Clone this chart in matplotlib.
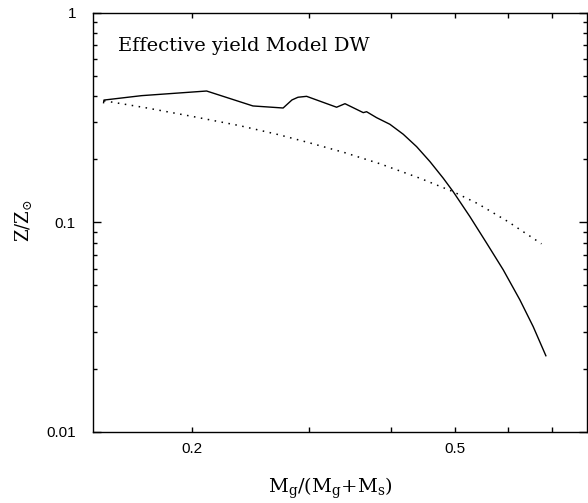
import matplotlib
matplotlib.use('Agg')
import matplotlib.pyplot as plt
from matplotlib.ticker import FixedLocator, NullFormatter, LogLocator, FixedFormatter

plt.rcParams['mathtext.fontset'] = 'dejavuserif'

# gas fraction vs. effective yield, model DW (solid)
mu_model = [0.1468, 0.147, 0.1676, 0.2102, 0.247, 0.2744, 0.283, 0.289, 0.2978,
            0.3306, 0.3404, 0.3628, 0.367, 0.380, 0.398, 0.417, 0.4369,
            0.4577, 0.4794, 0.4962, 0.526, 0.5577, 0.5907, 0.626, 0.6558,
            0.6854]
z_model = [0.372, 0.383, 0.402, 0.423, 0.359, 0.351, 0.3835, 0.395, 0.399,
           0.354, 0.368, 0.3336, 0.337, 0.3157, 0.2936, 0.2631, 0.2296,
           0.1948, 0.1623, 0.1401, 0.1065, 0.0795, 0.0594, 0.0427, 0.0318,
           0.0231]

# closed-box reference (dotted)
mu_box = [0.147, 0.17, 0.20, 0.236, 0.27, 0.30, 0.34, 0.385, 0.442, 0.496,
          0.54, 0.60, 0.675]
z_box = [0.380, 0.352, 0.320, 0.289, 0.262, 0.240, 0.215, 0.190, 0.1623,
         0.1401, 0.123, 0.101, 0.079]

x_major = [0.2, 0.5]
x_major_labels = ['0.2', '0.5']
x_minor = [0.3, 0.4, 0.6, 0.7]
y_major = [0.01, 0.1, 1]
y_major_labels = ['0.01', '0.1', '1']

fig = plt.figure(figsize=(5.88, 5.03), dpi=100)
ax = fig.add_axes([0.1575, 0.1412, 0.8408, 0.8336])

ax.plot(mu_model, z_model, color='black', lw=1.0)
ax.plot(mu_box, z_box, color='black', lw=1.1, linestyle=(0, (1, 3.6)))

ax.set_xscale('log')
ax.set_yscale('log')
ax.set_xlim(0.1413, 0.791)
ax.set_ylim(0.01, 1)

ax.xaxis.set_major_locator(FixedLocator(x_major))
ax.xaxis.set_major_formatter(FixedFormatter(x_major_labels))
ax.xaxis.set_minor_locator(FixedLocator(x_minor))
ax.xaxis.set_minor_formatter(NullFormatter())
ax.yaxis.set_major_locator(FixedLocator(y_major))
ax.yaxis.set_major_formatter(FixedFormatter(y_major_labels))
ax.yaxis.set_minor_locator(LogLocator(base=10, subs=range(2, 10)))
ax.yaxis.set_minor_formatter(NullFormatter())

for side in ax.spines.values():
    side.set_linewidth(1.0)

ax.tick_params(which='both', direction='in', top=True, right=True, width=1.0,
               labelfontfamily='Liberation Sans', labelsize=11)
ax.tick_params(axis='x', which='both', length=3.5, pad=7)
ax.tick_params(axis='y', which='major', length=5.5, pad=12)
ax.tick_params(axis='y', which='minor', length=3)

ax.text(0.051, 0.909, 'Effective yield Model DW', transform=ax.transAxes,
        family='DejaVu Serif', fontsize=14, va='baseline', ha='left')

fig.text(330 / 588, 1 - 493 / 503, r'$\mathrm{M_{g}/(M_{g}{+}M_{s})}$',
         fontsize=14, ha='center', va='baseline')
fig.text(23 / 588, 1 - 221 / 503, r'$\mathrm{Z/Z_{\odot}}$',
         fontsize=13, ha='center', va='center', rotation=90)

fig.savefig('out.png', dpi=100, facecolor='white')
